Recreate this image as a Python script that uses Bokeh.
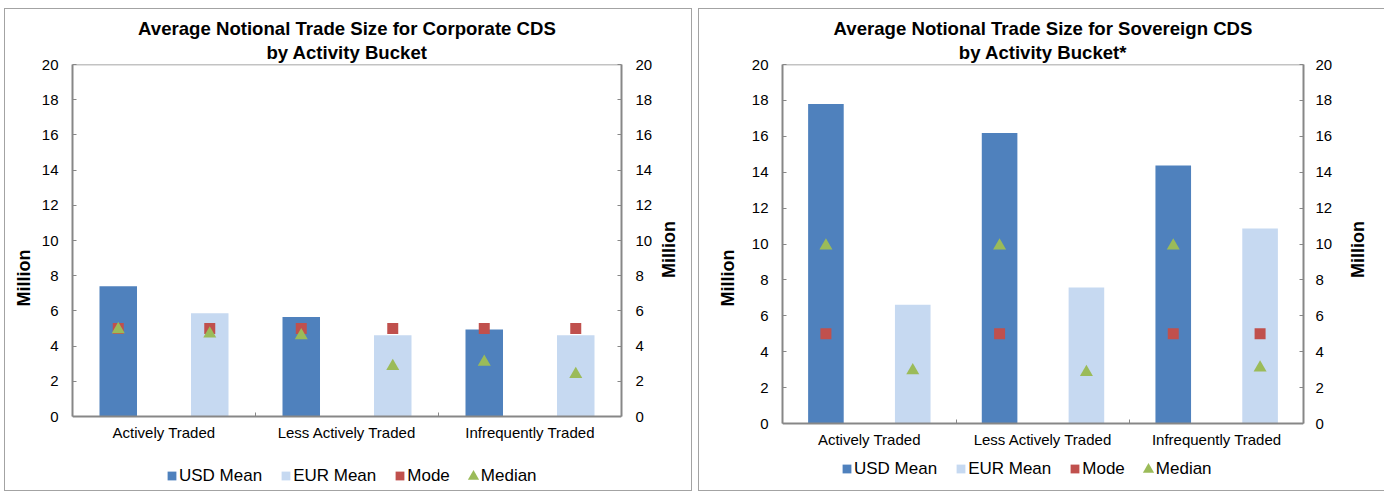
import math
from bokeh.plotting import figure
from bokeh.models import Range1d, LinearAxis, FixedTicker, Title, Legend, LegendItem, Span
from bokeh.layouts import row
from bokeh.embed import file_html
from bokeh.resources import INLINE

# ---------------- data ----------------
categories = ["Actively Traded", "Less Actively Traded", "Infrequently Traded"]
y_ticks = [0, 2, 4, 6, 8, 10, 12, 14, 16, 18, 20]
series_names = ["USD Mean", "EUR Mean", "Mode", "Median"]

corp_usd_mean = [7.4, 5.65, 4.95]
corp_eur_mean = [5.87, 4.62, 4.62]
corp_usd_mode = [5.0, 5.0, 5.0]
corp_eur_mode = [5.0, 5.0, 5.0]
corp_usd_median = [4.95, 4.6, 3.1]
corp_eur_median = [4.7, 2.85, 2.4]

sov_usd_mean = [17.8, 16.18, 14.37]
sov_eur_mean = [6.62, 7.57, 10.87]
sov_usd_mode = [5.0, 5.0, 5.0]
sov_eur_mode = [float("nan"), float("nan"), 5.0]
sov_usd_median = [9.9, 9.9, 9.9]
sov_eur_median = [2.95, 2.85, 3.1]

# ---------------- style ----------------
FONT = "Liberation Sans"
USD_C = "#4F81BD"
EUR_C = "#C6D9F1"
MODE_C = "#C0504D"
MED_C = "#9BBB59"
AXIS_C = "#878787"
FRAME_C = "#a3a3a3"
FIG_H = 491
TOP = 64
Y_MAX = 20
NAN = float("nan")


def style_y(ax, standoff, label_standoff):
    ax.ticker = FixedTicker(ticks=y_ticks)
    ax.bounds = (0, Y_MAX)
    ax.axis_line_color = AXIS_C
    ax.axis_line_width = 2
    ax.major_tick_line_color = AXIS_C
    ax.major_tick_in = 4
    ax.major_tick_out = 0
    ax.minor_tick_line_color = None
    ax.major_label_text_font = FONT
    ax.major_label_text_font_size = "15px"
    ax.major_label_text_color = "black"
    ax.major_label_standoff = standoff
    ax.axis_label = "Million"
    ax.axis_label_text_font = FONT
    ax.axis_label_text_font_size = "18px"
    ax.axis_label_text_font_style = "bold"
    ax.axis_label_text_color = "black"
    ax.axis_label_standoff = label_standoff


def make_chart(t1, t2, usd_mean, eur_mean, usd_mode, eur_mode, usd_med, eur_med,
               width, bl, br, zero_px, lstand, rstand, lalab, ralab, leg_a, leg_b, frame_css):
    plot_px = zero_px - TOP              # pixel height of the 0..20 area
    below_px = FIG_H - zero_px           # room under the zero line for labels + legend
    y0 = -Y_MAX * below_px / plot_px
    p = figure(width=width, height=FIG_H, x_range=Range1d(0, 6), y_range=Range1d(y0, Y_MAX),
               output_backend="svg", toolbar_location=None,
               min_border_left=bl, min_border_right=br, min_border_top=TOP, min_border_bottom=0,
               styles=frame_css)
    p.border_fill_color = None
    p.background_fill_color = None
    p.outline_line_color = None
    p.xgrid.visible = False
    p.ygrid.visible = False

    usd_x = [2 * i + 0.5 for i in range(len(categories))]
    eur_x = [2 * i + 1.5 for i in range(len(categories))]

    p.vbar(x=usd_x, top=usd_mean, bottom=0, width=0.41, fill_color=USD_C, line_color=None)
    p.vbar(x=eur_x, top=eur_mean, bottom=0, width=0.41, fill_color=EUR_C, line_color=None)
    p.scatter(x=usd_x, y=usd_mode, marker="square", size=11, fill_color=MODE_C, line_color=None)
    p.scatter(x=eur_x, y=eur_mode, marker="square", size=11, fill_color=MODE_C, line_color=None)
    p.scatter(x=usd_x, y=usd_med, marker="triangle", size=13, fill_color=MED_C, line_color=None)
    p.scatter(x=eur_x, y=eur_med, marker="triangle", size=13, fill_color=MED_C, line_color=None)

    # top border of the plot area
    p.add_layout(Span(location=Y_MAX, dimension="width", line_color=AXIS_C, line_width=1.5))

    # x axis, fixed at zero
    xa = p.xaxis[0]
    xa.fixed_location = 0
    centers = [2 * i + 1 for i in range(len(categories))]
    xa.ticker = FixedTicker(ticks=centers, minor_ticks=[2, 4])
    xa.major_label_overrides = {c: lab for c, lab in zip(centers, categories)}
    xa.axis_line_color = AXIS_C
    xa.axis_line_width = 2
    xa.major_tick_line_color = None
    xa.major_tick_in = 0
    xa.major_tick_out = 0
    xa.minor_tick_line_color = AXIS_C
    xa.minor_tick_in = 4
    xa.minor_tick_out = 0
    xa.major_label_text_font = FONT
    xa.major_label_text_font_size = "15px"
    xa.major_label_text_color = "black"
    xa.major_label_standoff = 7

    # y axes
    style_y(p.yaxis[0], lstand, lalab)
    ra = LinearAxis()
    style_y(ra, rstand, ralab)
    ra.axis_label_orientation = math.pi / 2
    p.add_layout(ra, "right")

    # titles (first added is closest to the frame)
    for txt, st in ((t2, 3), (t1, 0)):
        p.add_layout(Title(text=txt, align="center", text_font=FONT, text_font_size="18.6px",
                           text_font_style="bold", text_color="black", standoff=st), "above")

    # legend: square swatches (legend A) + triangle swatch (legend B)
    sw_usd = p.vbar(x=[NAN], top=[NAN], width=0.4, fill_color=USD_C, line_color=None)
    sw_eur = p.vbar(x=[NAN], top=[NAN], width=0.4, fill_color=EUR_C, line_color=None)
    sw_mode = p.vbar(x=[NAN], top=[NAN], width=0.4, fill_color=MODE_C, line_color=None)
    sw_blank = p.vbar(x=[NAN], top=[NAN], width=0.4, fill_alpha=0, line_color=None)
    sw_med = p.scatter(x=[NAN], y=[NAN], marker="triangle", size=11, fill_color=MED_C, line_color=None)

    items_a = [LegendItem(label=n, renderers=[r])
               for n, r in zip(series_names, [sw_usd, sw_eur, sw_mode, sw_blank])]
    common = dict(orientation="horizontal", padding=0, margin=0, border_line_color=None,
                  background_fill_alpha=0, label_text_font=FONT, label_text_font_size="17px",
                  label_text_color="black")
    leg_a = Legend(items=items_a, location=leg_a, glyph_width=11, glyph_height=11,
                   label_standoff=2, spacing=18, **common)
    leg_b = Legend(items=[LegendItem(label=" ", renderers=[sw_med])], location=leg_b,
                   glyph_width=28, glyph_height=28, label_standoff=0, spacing=0, **common)
    p.add_layout(leg_a)
    p.add_layout(leg_b)
    return p


g = FRAME_C
left = make_chart("Average Notional Trade Size for Corporate CDS", "by Activity Bucket",
                  corp_usd_mean, corp_eur_mean, corp_usd_mode, corp_eur_mode,
                  corp_usd_median, corp_eur_median,
                  width=692, bl=72, br=67, zero_px=416, lstand=14, rstand=14, lalab=5, ralab=14,
                  leg_a=(94, 5.5), leg_b=(387, 1.5),
                  frame_css={"box-shadow": f"inset 0 8px 0 white, inset 4px 0 0 white, "
                                           f"inset 0 9px 0 {g}, inset 5px 0 0 {g}, "
                                           f"inset -1px 0 0 {g}, inset 0 -1px 0 {g}"})

right = make_chart("Average Notional Trade Size for Sovereign CDS", "by Activity Bucket*",
                   sov_usd_mean, sov_eur_mean, sov_usd_mode, sov_eur_mode,
                   sov_usd_median, sov_eur_median,
                   width=686, bl=84, br=81, zero_px=423, lstand=14, rstand=12, lalab=11, ralab=23,
                   leg_a=(59, 12.5), leg_b=(352, 8.5),
                   frame_css={"box-shadow": f"inset 0 8px 0 white, inset 0 9px 0 {g}, "
                                            f"inset 1px 0 0 {g}, inset 0 -1px 0 {g}"})

layout = row(left, right, spacing=6)
open("out.html", "w").write(file_html(layout, INLINE))
